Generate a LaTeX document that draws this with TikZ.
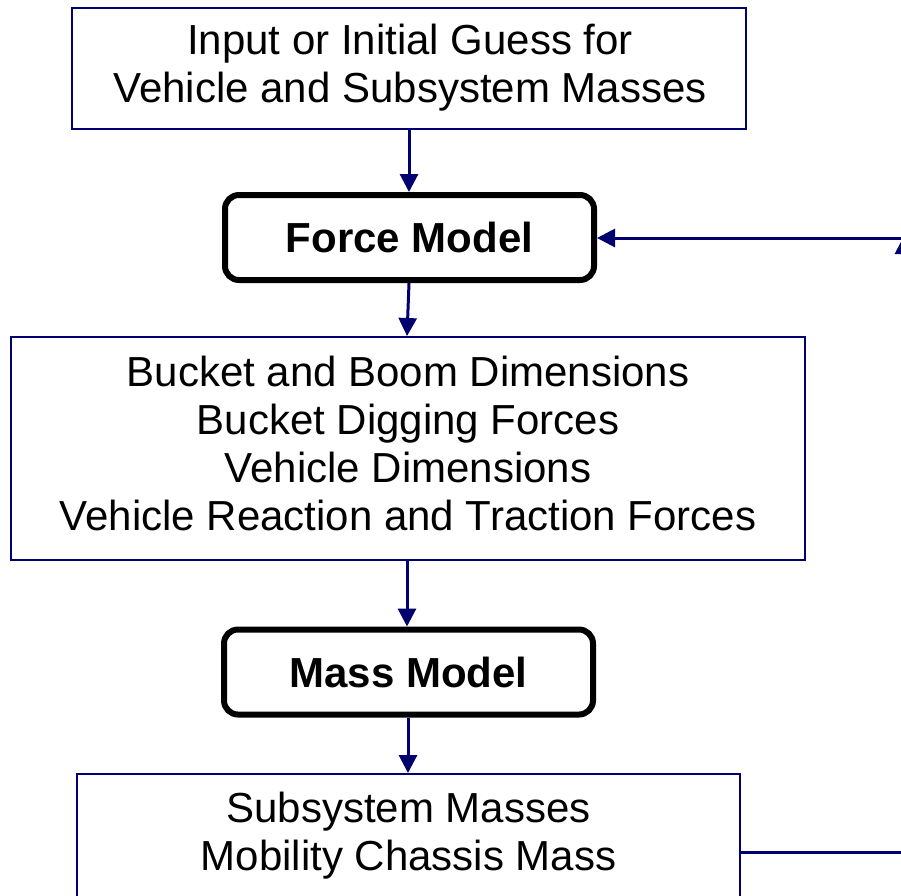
\documentclass[tikz,border=0pt]{standalone}
\usepackage{fontspec}
\setmainfont{Liberation Sans}
\usetikzlibrary{arrows.meta}
\definecolor{navy}{RGB}{0,0,110}
\begin{document}
\begin{tikzpicture}[x=1pt,y=-1pt,
  thinbox/.style={draw=navy,line width=2pt,align=center,inner sep=0pt,fill=white},
  txt/.style={align=center,inner sep=0pt,font=\fontsize{42}{48}\selectfont},
  modelbox/.style={draw=black,line width=6pt,rounded corners=14pt,minimum width=369pt,minimum height=85pt,inner sep=0pt,font=\fontsize{42}{48}\selectfont\bfseries},
  conn/.style={draw=navy,line width=3pt,-{Triangle[length=18pt,width=18pt]}}]
\useasboundingbox (0,0) rectangle (901,895);
\clip (0,0) rectangle (901,895);
\node[thinbox,minimum width=674pt,minimum height=121pt] (top) at (409,68.5) {};
\node[txt] (toptxt) at (410,68) {Input or Initial Guess for\\Vehicle and Subsystem Masses};
\node[modelbox] (force) at (409.5,237.5) {Force Model};
\node[thinbox,minimum width=794pt,minimum height=223pt] (big) at (408,448.5) {};
\node[txt] (bigtxt) at (408,443.5) {Bucket and Boom Dimensions\\Bucket Digging Forces\\Vehicle Dimensions\\Vehicle Reaction and Traction Forces};
\node[modelbox] (mass) at (408.5,672) {Mass Model};
\node[thinbox,minimum width=663pt,minimum height=130pt] (bot) at (408.5,839) {};
\node[txt] (bottxt) at (408.5,836) {Subsystem Masses\\Mobility Chassis Mass};
\draw[conn] (top.south -| 409,0) -- (force.north -| 409,0);
\draw[conn] (force.south -| 409,0) -- (big.north -| 407,0);
\draw[conn] (big.south -| 407,0) -- (mass.north -| 407,0);
\draw[conn] (mass.south -| 408,0) -- (bot.north -| 408,0);
\coordinate (corner) at (904,852);
\coordinate (up) at (904,236);
\coordinate (feed) at (940,238);
\draw[conn] ([yshift=-13pt]bot.east) -- (corner) -- (up);
\draw[conn] (feed) -- (force.east |- feed);
\end{tikzpicture}
\end{document}
